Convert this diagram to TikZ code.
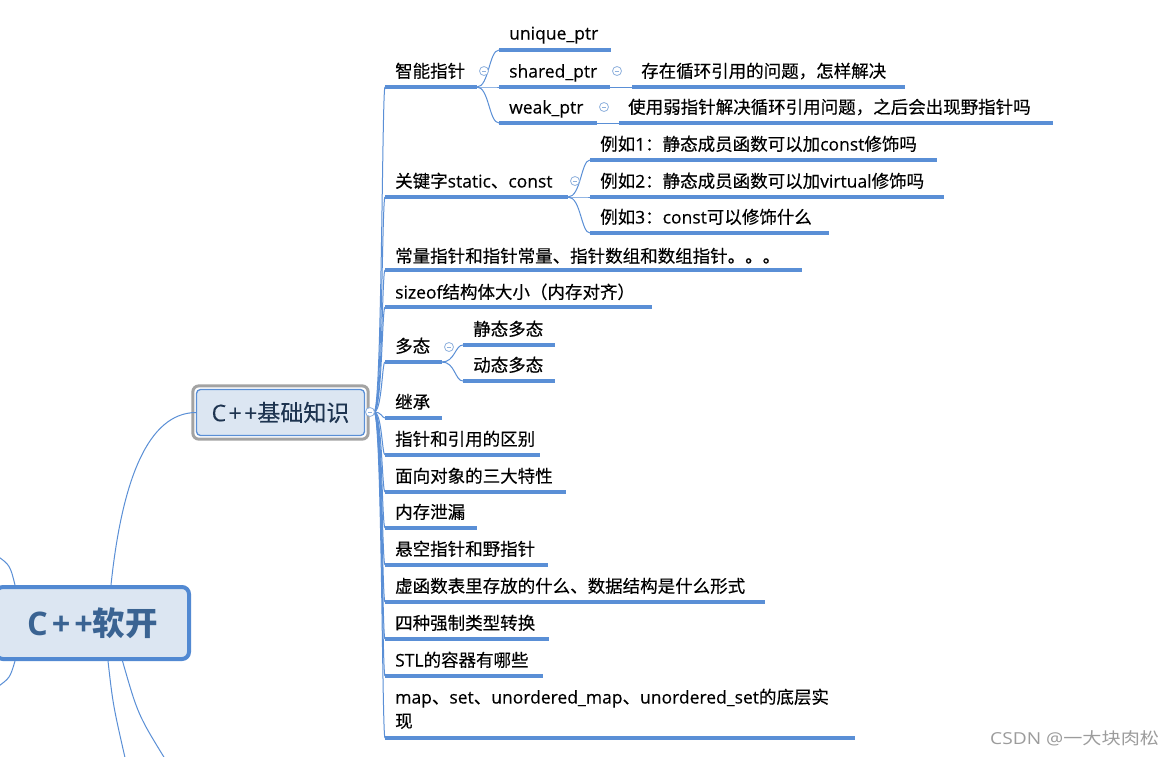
\documentclass[tikz,border=0pt]{standalone}
\usepackage{fontspec}
\usepackage{graphicx}
\setmainfont[FakeBold=0.3]{Noto Sans CJK SC}
\newfontfamily\lat[FakeBold=0.3]{Open Sans}
\newfontfamily\rootlat{Open Sans}
\newfontfamily\rootcjk{Noto Sans CJK SC}
\usetikzlibrary{calc}
\definecolor{lineblue}{HTML}{5A8FD6}
\definecolor{boxfill}{HTML}{DCE6F2}
\definecolor{rootborder}{HTML}{5289D2}
\definecolor{roottext}{HTML}{3A6392}
\definecolor{kbtext}{HTML}{1E3450}
\definecolor{togglecol}{HTML}{8FB1DD}
\definecolor{wmgray}{HTML}{9C9C9C}
\definecolor{selgray}{HTML}{A3A3A3}
\tikzset{
 topic/.style={anchor=base west, inner sep=0pt, font=\fontsize{17.5}{24}\selectfont, text=black},
 uline/.style={draw=lineblue, line width=3.2pt},
 conn/.style={draw=lineblue, line width=1pt},
 toggle/.style={circle, draw=togglecol, fill=white, line width=0.8pt, minimum size=9pt, inner sep=0pt,
   path picture={\draw[togglecol, line width=0.8pt] ([xshift=2.3pt]path picture bounding box.west) -- ([xshift=-2.3pt]path picture bounding box.east);}},
}
\newcommand\topicline[8][]{%
 \node[topic,#1] (#2) at (#3,#4+6.5) {#8};
 \draw[uline] (#6,#5) coordinate (#2-l) -- (#7,#5) coordinate (#2-r);
}
\begin{document}
\begin{tikzpicture}[x=1pt,y=-1pt]
\useasboundingbox (0,0) rectangle (1175,756);
\fill[white] (0,0) rectangle (1175,756);

% topics of C++基础知识
\topicline{zn}{395}{71}{87}{385}{477}{智能指针}
\topicline{up}{509}{33}{50}{499}{611}{\lat unique\_ptr}
\topicline{sp}{509}{71}{87}{499}{610}{\lat shared\_ptr}
\topicline{wp}{509}{107}{123}{499}{597}{\lat weak\_ptr}
\topicline{cz}{641}{71}{87}{632}{905}{存在循环引用的问题，怎样解决}
\topicline{sy}{628}{107}{123}{619}{1053}{使用弱指针解决循环引用问题，之后会出现野指针吗}
\topicline{kw}{395}{181}{197}{385}{568}{关键字{\lat static}、{\lat const}}
\topicline{e1}{600}{144}{160}{590}{937}{例如{\lat 1}：静态成员函数可以加{\lat const}修饰吗}
\topicline{e2}{600}{181}{197}{590}{944}{例如{\lat 2}：静态成员函数可以加{\lat virtual}修饰吗}
\topicline{e3}{600}{217}{233}{590}{829}{例如{\lat 3}：{\lat const}可以修饰什么}
\topicline{cl}{395}{256}{270}{385}{802}{常量指针和指针常量、指针数组和数组指针。。。}
\topicline{sz}{395}{292}{307}{385}{652}{{\lat sizeof}结构体大小（内存对齐）}
\topicline{dt}{395}{346}{362}{385}{442}{多态}
\topicline{jt}{473}{329}{345}{463}{555}{静态多态}
\topicline{dd}{473}{365}{381}{463}{555}{动态多态}
\topicline{jc}{395}{402}{418}{385}{442}{继承}
\topicline{zy}{395}{439}{455}{385}{540}{指针和引用的区别}
\topicline{mx}{395}{476}{492}{385}{566}{面向对象的三大特性}
\topicline{nc}{395}{512}{528}{385}{477}{内存泄漏}
\topicline{xk}{395}{549}{565}{385}{548}{悬空指针和野指针}
\topicline{xh}{395}{586}{602}{385}{765}{虚函数表里存放的什么、数据结构是什么形式}
\topicline{qz}{395}{623}{639}{385}{549}{四种强制类型转换}
\topicline{stl}{395}{660}{676}{385}{543}{{\lat STL}的容器有哪些}
\topicline[align=left]{map}{395}{721}{738}{385}{855}{{\lat map}、{\lat set}、{\lat unordered\_map}、{\lat unordered\_set}的底层实\\现}

% root and main topic
\node[draw=rootborder, line width=4pt, fill=boxfill, rounded corners=7pt, minimum width=193pt, minimum height=72pt,
  inner sep=0pt, text=roottext] (root) at (92.5,623)
  {\fontsize{32.5}{36}\selectfont{\rootlat\bfseries C\kern4pt+\kern4pt+}{\rootcjk\bfseries 软开}};
\node[draw=lineblue, line width=1.3pt, fill=boxfill, rounded corners=4pt, minimum width=168pt, minimum height=46pt,
  inner sep=0pt, font=\fontsize{23}{26}\selectfont, text=kbtext] (kb) at (280.5,412.5) {{\lat C\kern2.5pt+\kern2.5pt+}基础知识};
\draw[selgray, line width=3pt, rounded corners=6pt] ($(kb.north west)+(-3,-3)$) rectangle ($(kb.south east)+(3,3)$);

% connectors
\coordinate (kb-o) at (374,412);
\coordinate (tx) at (382,0);
\foreach \ch in {zn,kw,cl,sz,dt,jc,zy,mx,nc,xk,xh,qz,stl,map}
  \draw[conn] (kb-o) .. controls (tx |- kb-o) and (tx |- \ch-l) .. (\ch-l);
\coordinate (zx) at (489,0);
\foreach \ch in {up,sp,wp}
  \draw[conn] (zn-r) .. controls (zx |- zn-r) and (zx |- \ch-l) .. (\ch-l);
\draw[conn] (sp-r) -- (cz-l);
\draw[conn] (wp-r) -- (sy-l);
\coordinate (kx) at (581,0);
\foreach \ch in {e1,e2,e3}
  \draw[conn] (kw-r) .. controls (kx |- kw-r) and (kx |- \ch-l) .. (\ch-l);
\coordinate (dx) at (455,0);
\foreach \ch in {jt,dd}
  \draw[conn] (dt-r) .. controls (dx |- dt-r) and (dx |- \ch-l) .. (\ch-l);

\draw[conn] ([xshift=18.5pt]root.north) .. controls (122,480) and (148,413) .. (kb.west);
\coordinate (offA) at (126,762);
\coordinate (offB) at (167,762);
\coordinate (offC) at (-4,555);
\coordinate (offD) at (-4,688);
\draw[conn] ([xshift=15.5pt]root.south) .. controls (113,705) .. (offA);
\draw[conn] ([xshift=30pt]root.south) .. controls (138,715) .. (offB);
\draw[conn] (offC) .. controls (10,565) .. ([xshift=21pt]root.north west);
\draw[conn] ([xshift=21pt]root.south west) .. controls (10,678) .. (offD);

% collapse toggles
\node[toggle] (t-kb) at (370,412) {};
\node[toggle] (t-zn) at (484,71) {};
\node[toggle] (t-sp) at (617,71) {};
\node[toggle] (t-wp) at (604,107) {};
\node[toggle] (t-kw) at (575,181) {};
\node[toggle] (t-dt) at (449,347) {};

% watermark
\node[anchor=base west, inner sep=0pt, font=\fontsize{16.5}{18}\selectfont, text=wmgray] (wm) at (990,744)
  {\scalebox{1.16}[1]{{\rootlat CSDN @}{\rootcjk 一大块肉松}}};
\end{tikzpicture}
\end{document}
